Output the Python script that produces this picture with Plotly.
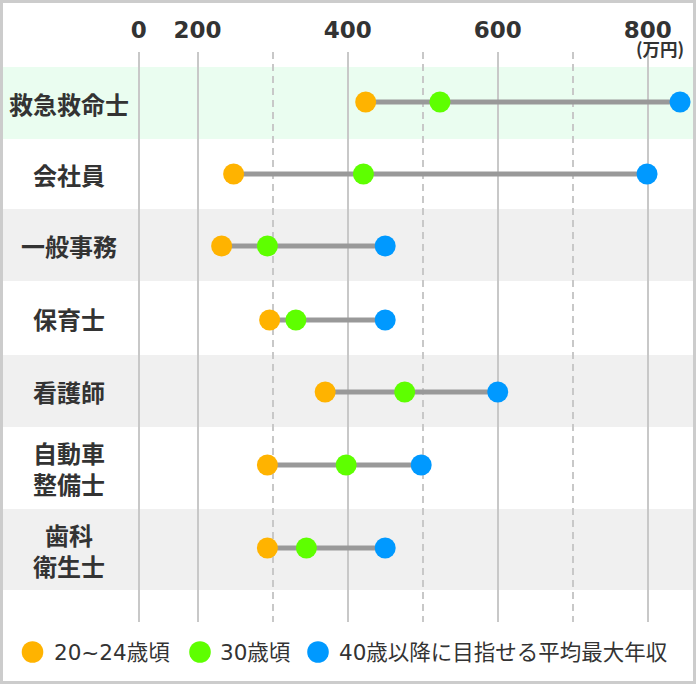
import plotly.graph_objects as go

# ---------------- data ----------------
jobs = ['救急救命士', '会社員', '一般事務', '保育士', '看護師', '自動車<br>整備士', '歯科<br>衛生士']
age_20_24 = [424, 248, 232, 296, 370, 293, 293]
age_30 = [523, 421, 293, 331, 476, 398, 345]
max_40 = [843, 799, 450, 450, 600, 498, 450]

series_names = ['20~24歳頃', '30歳頃', '40歳以降に目指せる平均最大年収']
tick_labels = ['0', '200', '400', '600', '800']
tick_values = [0, 200, 400, 600, 800]
minor_values = [300, 500, 700]

# ---------------- layout constants ----------------
W, H = 696, 684
M_T, M_B = 52, 62
PLOT_H = H - M_T - M_B
row_centers = [102, 174, 246, 320, 392, 465, 548]
band_edges = [67, 139, 209, 281, 355, 427, 509, 590]
band_colors = ['#EAFDF0', '#FFFFFF', '#F0F0F0', '#FFFFFF', '#F0F0F0', '#FFFFFF', '#F0F0F0']
colors = ['#FFB300', '#5EFF00', '#0099FF']
FONT_CJK = 'Noto Sans CJK JP'
FONT_MIX = 'DejaVu Sans, Noto Sans CJK JP'
TXT = '#333333'

# axis: linear from 200 upward, the 0..200 segment is drawn compressed (axis break)
SLOPE, ICPT = 0.7503, 47.55          # pixel = ICPT + SLOPE * value
BREAK_0 = (138.7 - ICPT) / SLOPE     # where the "0" tick is drawn
x_range = [(0 - ICPT) / SLOPE, (W - ICPT) / SLOPE]


def tick_pos(v):
    return BREAK_0 if v == 0 else v


def py(yp):
    """figure pixel row -> paper fraction"""
    return (H - M_B - yp) / PLOT_H


fig = go.Figure()

# connecting lines
for j in range(len(jobs)):
    fig.add_trace(go.Scatter(
        x=[age_20_24[j], max_40[j]], y=[row_centers[j]] * 2,
        mode='lines', line=dict(color='#999999', width=5),
        hoverinfo='skip', showlegend=False))

# dots
for name, vals, c in zip(series_names, [age_20_24, age_30, max_40], colors):
    fig.add_trace(go.Scatter(
        x=vals, y=row_centers, mode='markers', name=name,
        marker=dict(color=c, size=21, line=dict(width=0)),
        showlegend=False))

shapes = []
# row bands
for j in range(len(jobs)):
    shapes.append(dict(type='rect', xref='paper', yref='y', x0=0, x1=1,
                       y0=band_edges[j], y1=band_edges[j + 1],
                       fillcolor=band_colors[j], line=dict(width=0), layer='below'))
# frame
shapes.append(dict(type='rect', xref='paper', yref='paper',
                   x0=1.5 / W, x1=1 - 1.5 / W, y0=py(H - 1.5), y1=py(1.5),
                   line=dict(color='#CCCCCC', width=3), fillcolor='rgba(0,0,0,0)', layer='above'))

annotations = []
# row labels
for j, job in enumerate(jobs):
    annotations.append(dict(
        xref='paper', yref='y', x=69 / W, y=(band_edges[j] + band_edges[j + 1]) / 2,
        text=job, showarrow=False, xanchor='center', yanchor='middle', align='center',
        font=dict(family=FONT_CJK, size=24, color=TXT, weight='bold')))
# unit
annotations.append(dict(xref='paper', yref='paper', x=660 / W, y=py(49), text='(万円)',
                        showarrow=False, xanchor='center', yanchor='middle',
                        font=dict(family=FONT_CJK, size=17.5, color=TXT, weight='bold')))
# legend (manual)
leg_dot_x = [32.5, 200, 318]
leg_txt_x = [52, 218, 337]
for k in range(3):
    shapes.append(dict(type='circle', xref='paper', yref='paper',
                       xsizemode='pixel', ysizemode='pixel',
                       xanchor=leg_dot_x[k] / W, yanchor=py(652),
                       x0=-10.8, x1=10.8, y0=-10.8, y1=10.8,
                       fillcolor=colors[k], line=dict(width=0), layer='above'))
    annotations.append(dict(xref='paper', yref='paper', x=leg_txt_x[k] / W, y=py(652),
                            text=series_names[k], showarrow=False,
                            xanchor='left', yanchor='middle',
                            font=dict(family=FONT_MIX, size=21.5, color=TXT)))

fig.update_layout(
    width=W, height=H,
    margin=dict(l=0, r=0, t=M_T, b=M_B, pad=0),
    paper_bgcolor='white', plot_bgcolor='white',
    shapes=shapes, annotations=annotations,
    showlegend=False,
    xaxis=dict(range=x_range, side='top', showline=False, zeroline=False,
               tickvals=[tick_pos(v) for v in tick_values], ticktext=tick_labels,
               ticks='', ticklabelstandoff=8,
               tickfont=dict(family=FONT_MIX, size=23, color=TXT, weight='bold'),
               showgrid=True, gridcolor='#C8C8C8', gridwidth=2,
               minor=dict(tickvals=minor_values, showgrid=True, gridcolor='#C8C8C8',
                          gridwidth=2, griddash='7px,5px', ticks=''),
               fixedrange=True),
    yaxis=dict(range=[H - M_B, M_T], showgrid=False, zeroline=False,
               showticklabels=False, showline=False, fixedrange=True),
)

fig.write_html('out.html', config={'displayModeBar': False},
               post_script="document.body.style.margin='0px';")
